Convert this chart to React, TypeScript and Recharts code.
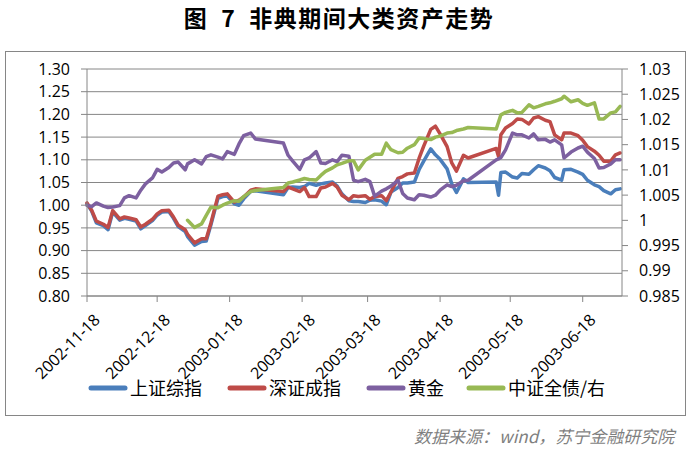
import { LineChart, Line, XAxis, YAxis, CartesianGrid } from "recharts";

// trading days
const dates = [
  "2002-11-18", "2002-11-20", "2002-11-22", "2002-11-25", "2002-11-27", "2002-11-29",
  "2002-12-02", "2002-12-04", "2002-12-06", "2002-12-09", "2002-12-11", "2002-12-13", "2002-12-16",
  "2002-12-18", "2002-12-20", "2002-12-23", "2002-12-25", "2002-12-27", "2002-12-30", "2002-12-31",
  "2003-01-03", "2003-01-06", "2003-01-08", "2003-01-10", "2003-01-13", "2003-01-15",
  "2003-01-17", "2003-01-20", "2003-01-22", "2003-01-24", "2003-01-27", "2003-01-29",
  "2003-02-10", "2003-02-12", "2003-02-14", "2003-02-17", "2003-02-19", "2003-02-21",
  "2003-02-24", "2003-02-26", "2003-02-28",
  "2003-03-03", "2003-03-05", "2003-03-07", "2003-03-10", "2003-03-12", "2003-03-14", "2003-03-17",
  "2003-03-19", "2003-03-21", "2003-03-24", "2003-03-26", "2003-03-28", "2003-03-31",
  "2003-04-02", "2003-04-04", "2003-04-07", "2003-04-09", "2003-04-11", "2003-04-14", "2003-04-16",
  "2003-04-18", "2003-04-21", "2003-04-23", "2003-04-25", "2003-04-28", "2003-04-30",
  "2003-05-12", "2003-05-13", "2003-05-14", "2003-05-16", "2003-05-19", "2003-05-21", "2003-05-23",
  "2003-05-26", "2003-05-28", "2003-05-30",
  "2003-06-02", "2003-06-04", "2003-06-06", "2003-06-09", "2003-06-10", "2003-06-13", "2003-06-16",
  "2003-06-18", "2003-06-20", "2003-06-23", "2003-06-25", "2003-06-27", "2003-06-30",
  "2003-07-02", "2003-07-04",
];

const shComposite = [
  1.003, 0.987, 0.961, 0.955, 0.946, 0.985,
  0.967, 0.971, 0.969, 0.965, 0.948, 0.955, 0.966, 0.978, 0.985, 0.986, 0.971, 0.953, 0.942, 0.931,
  0.912, 0.920, 0.921, 0.957, 1.015, 1.019, 1.020, 1.003, 1.000, 1.014, 1.030, 1.032,
  1.023, 1.039, 1.040, 1.039, 1.041, 1.048, 1.044, 1.047, 1.049,
  1.051, 1.042, 1.025, 1.010, 1.008, 1.008, 1.006, 1.011, 1.012, 1.009, 1.001, 1.029, 1.039,
  1.049, 1.049, 1.051, 1.078, 1.097, 1.124, 1.111, 1.101, 1.080, 1.047, 1.028, 1.058, 1.050,
  1.051, 1.022, 1.072, 1.073, 1.062, 1.060, 1.070, 1.068, 1.078, 1.087,
  1.082, 1.076, 1.061, 1.055, 1.078, 1.079, 1.073, 1.068, 1.055, 1.045, 1.041, 1.032, 1.025,
  1.034, 1.036,
];

const szComponent = [
  1.005, 0.989, 0.965, 0.958, 0.951, 0.988,
  0.970, 0.974, 0.972, 0.968, 0.952, 0.958, 0.969, 0.981, 0.988, 0.989, 0.974, 0.956, 0.946, 0.936,
  0.917, 0.926, 0.926, 0.961, 1.020, 1.023, 1.025, 1.007, 1.011, 1.018, 1.033, 1.036,
  1.030, 1.040, 1.036, 1.030, 1.039, 1.019, 1.019, 1.038, 1.040,
  1.048, 1.040, 1.022, 1.012, 1.021, 1.019, 1.021, 1.013, 1.019, 1.021, 1.010, 1.029, 1.059,
  1.063, 1.069, 1.071, 1.103, 1.130, 1.167, 1.174, 1.157, 1.129, 1.093, 1.075, 1.110, 1.104,
  1.125, 1.107, 1.155, 1.170, 1.180, 1.190, 1.189, 1.179, 1.192, 1.195,
  1.187, 1.184, 1.155, 1.144, 1.159, 1.159, 1.153, 1.143, 1.129, 1.119, 1.110, 1.097, 1.097,
  1.111, 1.115,
];

const gold = [
  1.000, 0.997, 1.005, 0.998, 0.995, 0.996,
  0.999, 1.016, 1.021, 1.016, 1.033, 1.047, 1.060, 1.079, 1.073, 1.083, 1.093, 1.095, 1.078, 1.091,
  1.100, 1.091, 1.107, 1.111, 1.106, 1.102, 1.118, 1.112, 1.135, 1.153, 1.159, 1.146,
  1.137, 1.110, 1.097, 1.079, 1.100, 1.104, 1.118, 1.093, 1.092,
  1.100, 1.096, 1.110, 1.108, 1.055, 1.052, 1.057, 1.052, 1.020, 1.031, 1.036, 1.042, 1.055,
  1.026, 1.016, 1.012, 1.023, 1.022, 1.018, 1.022, 1.033, 1.045, 1.041, 1.044, 1.054, 1.055,
  1.100, 1.102, 1.105, 1.122, 1.159, 1.155, 1.155, 1.148, 1.157, 1.144,
  1.145, 1.139, 1.144, 1.133, 1.104, 1.117, 1.126, 1.130, 1.117, 1.103, 1.082, 1.083, 1.091,
  1.100, 1.100,
];

const bondIndex = [
  null, null, null, null, null, null,
  null, null, null, null, null, null, null, null, null, null, null, null, null, 1.0,
  0.9986, 0.9993, 1.001, 1.0026, 1.0025, 1.003, 1.0034, 1.0039, 1.0038, 1.0047, 1.0057, 1.0059,
  1.0065, 1.0074, 1.0076, 1.008, 1.0083, 1.0081, 1.008, 1.0089, 1.0097,
  1.0104, 1.011, 1.0113, 1.0118, 1.0118, 1.01, 1.0119, 1.0125, 1.0131, 1.0131, 1.0153, 1.014, 1.0134,
  1.0135, 1.0143, 1.015, 1.0163, 1.0162, 1.016, 1.0165, 1.0167, 1.0173, 1.0174, 1.0178, 1.0181, 1.0184,
  1.0181, 1.0195, 1.0209, 1.0214, 1.0218, 1.0213, 1.0214, 1.0229, 1.0223, 1.0226,
  1.0231, 1.0233, 1.0236, 1.0241, 1.0246, 1.0235, 1.0239, 1.0232, 1.0228, 1.0233, 1.0201, 1.0201, 1.0213,
  1.0215, 1.0226,
];

const seriesNames = ["上证综指", "深证成指", "黄金", "中证全债/右"];
const xTickDates = [
  "2002-11-18", "2002-12-18", "2003-01-18", "2003-02-18",
  "2003-03-18", "2003-04-18", "2003-05-18", "2003-06-18",
];
const leftTicks = [0.8, 0.85, 0.9, 0.95, 1.0, 1.05, 1.1, 1.15, 1.2, 1.25, 1.3];
const rightTicks = [0.985, 0.99, 0.995, 1.0, 1.005, 1.01, 1.015, 1.02, 1.025, 1.03];

const colors = ["#4A7EBB", "#BE4B48", "#7D60A0", "#98B954"];
const keys = ["sh", "sz", "gold", "bond"];
const GRID = "#868686";
const FONT = "'Open Sans', sans-serif";
const CJK = "'Noto Sans CJK SC', sans-serif";

const BASE = Date.UTC(2002, 10, 18);
const toDay = (s: string) => {
  const [y, m, d] = s.split("-").map(Number);
  return Math.round((Date.UTC(y, m - 1, d) - BASE) / 86400000);
};

const data = dates.map((date, i) => ({
  day: toDay(date),
  sh: shComposite[i],
  sz: szComponent[i],
  gold: gold[i],
  bond: bondIndex[i],
}));

const xTicks = xTickDates.map(toDay);
const tickLabel: Record<number, string> = {};
xTickDates.forEach((s) => (tickLabel[toDay(s)] = s));

function DateTick({ x, y, payload }: any) {
  return (
    <g transform={`translate(${x + 6},${y + 9})`}>
      <text
        transform="rotate(-45)"
        textAnchor="end"
        dy="0.71em"
        fontSize={16}
        fontFamily={FONT}
        fill="#000"
      >
        {tickLabel[payload.value]}
      </text>
    </g>
  );
}

const rightFmt = (v: number) => String(parseFloat(v.toFixed(3)));

const legendX = [89, 228, 367, 467];

export default function App() {
  return (
    <div style={{ position: "fixed", left: 0, top: 0, width: 691, height: 451, background: "#fff" }}>
      <svg width={691} height={451} style={{ position: "absolute", left: 0, top: 0 }}>
        <text
          x={339}
          y={27}
          textAnchor="middle"
          fontSize={23}
          letterSpacing={1.5}
          fontWeight="bold"
          fontFamily={CJK}
          fill="#000"
        >
          图{"\u2002"}7{"\u2002"}非典期间大类资产走势
        </text>
        <rect x={5.5} y={51.5} width={680} height={364} fill="none" stroke={GRID} strokeWidth={1} />
        {seriesNames.map((name, i) => (
          <g key={name}>
            <line
              x1={legendX[i] + 2}
              x2={legendX[i] + 36}
              y1={388}
              y2={388}
              stroke={colors[i]}
              strokeWidth={5}
              strokeLinecap="round"
            />
            <text x={legendX[i] + 41} y={395} fontSize={18} fontFamily={CJK} fill="#000">
              {name}
            </text>
          </g>
        ))}
        <text
          x={414}
          y={443}
          fontSize={17}
          fontStyle="italic"
          fontFamily={CJK}
          fill="#7F7F7F"
        >
          数据来源：wind，苏宁金融研究院
        </text>
      </svg>
      <div style={{ position: "absolute", left: 0, top: 0 }}>
        <LineChart width={691} height={451} data={data} margin={{ top: 69, right: 0, bottom: 0, left: 0 }}>
          <CartesianGrid yAxisId="left" vertical={false} stroke={GRID} />
          <XAxis
            dataKey="day"
            type="number"
            domain={[0, 228.8]}
            ticks={xTicks}
            interval={0}
            height={155}
            tickSize={6}
            tickMargin={2}
            tick={<DateTick />}
            tickLine={{ stroke: GRID }}
            axisLine={{ stroke: GRID }}
          />
          <YAxis
            yAxisId="left"
            domain={[0.8, 1.3]}
            ticks={leftTicks}
            interval={0}
            width={87}
            tickSize={6}
            tickMargin={11}
            tickFormatter={(v: number) => v.toFixed(2)}
            tick={{ fill: "#000", fontSize: 16, fontFamily: FONT }}
            tickLine={{ stroke: GRID }}
            axisLine={{ stroke: GRID }}
          />
          <YAxis
            yAxisId="right"
            orientation="right"
            domain={[0.985, 1.03]}
            ticks={rightTicks}
            interval={0}
            width={69}
            tickSize={6}
            tickMargin={11}
            tickFormatter={rightFmt}
            tick={{ fill: "#000", fontSize: 16, fontFamily: FONT }}
            tickLine={{ stroke: GRID }}
            axisLine={{ stroke: GRID }}
          />
          {keys.map((k, i) => (
            <Line
              key={k}
              yAxisId={k === "bond" ? "right" : "left"}
              dataKey={k}
              name={seriesNames[i]}
              type="linear"
              stroke={colors[i]}
              strokeWidth={3.5}
              strokeLinejoin="round"
              strokeLinecap="round"
              dot={false}
              activeDot={false}
              isAnimationActive={false}
            />
          ))}
        </LineChart>
      </div>
    </div>
  );
}
